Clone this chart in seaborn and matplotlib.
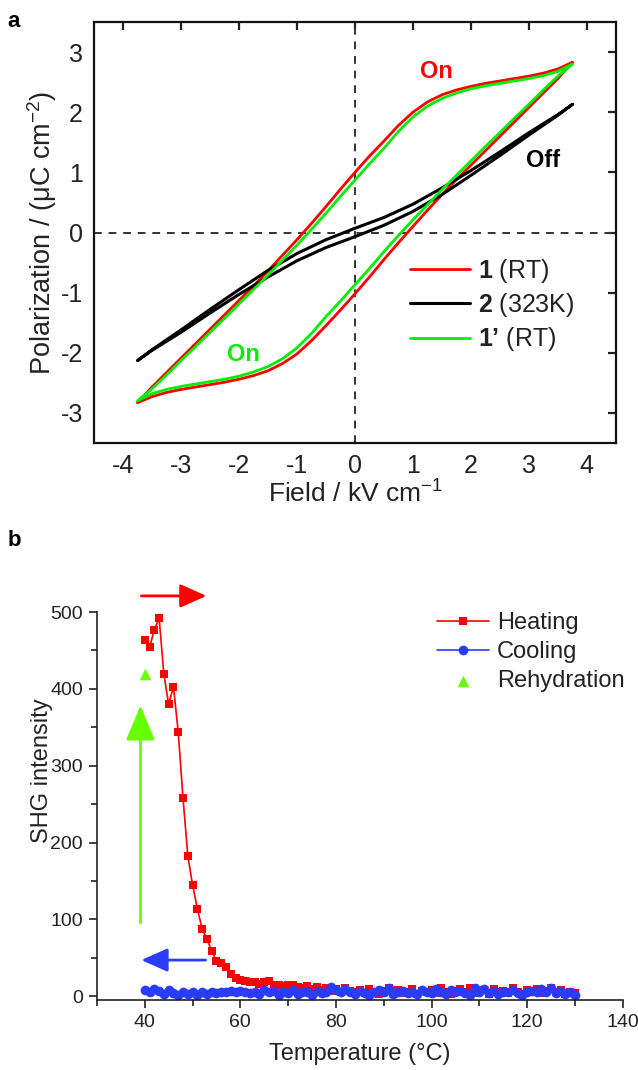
import numpy as np
import pandas as pd
import seaborn as sns
import matplotlib.pyplot as plt
from matplotlib.ticker import MultipleLocator

# ---- panel a: P-E hysteresis loops ----
field_down = [3.75, 3.5, 3.25, 3.0, 2.75, 2.5, 2.25, 2.0, 1.75, 1.5, 1.25, 1.0,
              0.75, 0.5, 0.25, 0.0, -0.25, -0.5, -0.75, -1.0, -1.25, -1.5,
              -1.75, -2.0, -2.25, -2.5, -2.75, -3.0, -3.25, -3.5, -3.75]
field_up = [-3.75, -3.5, -3.25, -3.0, -2.75, -2.5, -2.25, -2.0, -1.75, -1.5,
            -1.25, -1.0, -0.75, -0.5, -0.25, 0.0, 0.25, 0.5, 0.75, 1.0, 1.25,
            1.5, 1.75, 2.0, 2.25, 2.5, 2.75, 3.0, 3.25, 3.5, 3.75]

rt_down = [2.83, 2.72, 2.65, 2.60, 2.56, 2.52, 2.48, 2.43, 2.37, 2.29, 2.17,
           2.00, 1.78, 1.52, 1.27, 1.00, 0.72, 0.43, 0.15, -0.12, -0.38,
           -0.64, -0.89, -1.13, -1.37, -1.61, -1.85, -2.09, -2.33, -2.57, -2.83]
rt_up = [-2.83, -2.73, -2.66, -2.61, -2.57, -2.53, -2.49, -2.44, -2.38, -2.30,
         -2.18, -2.02, -1.80, -1.55, -1.29, -1.02, -0.74, -0.45, -0.17, 0.10,
         0.37, 0.63, 0.88, 1.12, 1.36, 1.60, 1.84, 2.08, 2.32, 2.56, 2.83]

rt2_down = [2.80, 2.68, 2.61, 2.56, 2.52, 2.48, 2.44, 2.39, 2.32, 2.23, 2.10,
            1.92, 1.68, 1.40, 1.14, 0.87, 0.60, 0.32, 0.05, -0.21, -0.46,
            -0.71, -0.95, -1.19, -1.43, -1.66, -1.90, -2.13, -2.37, -2.60, -2.80]
rt2_up = [-2.80, -2.68, -2.61, -2.56, -2.52, -2.48, -2.44, -2.39, -2.32, -2.23,
          -2.10, -1.92, -1.68, -1.40, -1.14, -0.87, -0.60, -0.32, -0.05, 0.21,
          0.46, 0.71, 0.95, 1.19, 1.43, 1.66, 1.90, 2.13, 2.37, 2.60, 2.80]

hot_field_down = [3.75, 3.5, 3.0, 2.5, 2.0, 1.5, 1.0, 0.5, 0.0, -0.5, -1.0,
                  -1.5, -2.0, -2.5, -3.0, -3.5, -3.75]
hot_field_up = [-3.75, -3.5, -3.0, -2.5, -2.0, -1.5, -1.0, -0.5, 0.0, 0.5, 1.0,
                1.5, 2.0, 2.5, 3.0, 3.5, 3.75]
hot_down = [2.13, 1.96, 1.66, 1.34, 1.03, 0.74, 0.47, 0.25, 0.07, -0.12, -0.35,
            -0.63, -0.95, -1.28, -1.62, -1.95, -2.13]
hot_up = [-2.13, -1.96, -1.66, -1.34, -1.03, -0.74, -0.47, -0.25, -0.07, 0.12,
          0.35, 0.63, 0.95, 1.28, 1.62, 1.95, 2.13]

# ---- panel b: SHG vs temperature ----
heat_temp = list(range(40, 131))
heat_shg = [463, 454, 477, 492, 419, 380, 403, 344, 258, 183,
            145, 114, 88, 74, 59, 46, 43, 38, 29, 24,
            21, 20, 18, 19, 16, 18, 20, 15, 14, 13,
            14, 15, 12, 11, 13, 9, 12, 8, 10, 7,
            9, 6, 10, 7, 5, 8, 4, 9, 6, 3,
            7, 10, 5, 8, 4, 6, 9, 3, 7, 5,
            8, 4, 10, 6, 3, 7, 9, 5, 11, 4,
            6, 8, 3, 9, 5, 7, 4, 10, 6, 3,
            8, 5, 9, 4, 7, 10, 5, 8, 3, 6, 4]
cool_temp = list(range(40, 131))
cool_shg = [8, 6, 9, 7, 3, 8, 4, 2, 6, 3,
            5, 2, 6, 3, 5, 4, 6, 5, 7, 6,
            7, 5, 4, 6, 3, 8, 5, 7, 2, 6,
            4, 8, 3, 6, 5, 2, 7, 4, 6, 12,
            8, 6, 9, 5, 3, 7, 4, 2, 6, 8,
            5, 11, 3, 5, 7, 4, 6, 3, 8, 5,
            4, 9, 6, 3, 8, 5, 7, 4, 2, 10,
            6, 9, 4, 7, 3, 6, 5, 8, 4, 2,
            6, 7, 5, 9, 6, 10, 4, 7, 3, 6, 2]
rehyd_temp = [40]
rehyd_shg = [420]

RED = '#ff0000'
GREEN = '#00ee00'
LIME = '#66ff00'
BLUE = '#2a3cff'

sns.set_style('white')
plt.rcParams['font.family'] = ['Liberation Sans', 'DejaVu Sans']
plt.rcParams['mathtext.fontset'] = 'custom'
plt.rcParams['mathtext.rm'] = 'Liberation Sans'
plt.rcParams['mathtext.bf'] = 'Liberation Sans:bold'
plt.rcParams['mathtext.it'] = 'Liberation Sans:italic'
plt.rcParams['axes.unicode_minus'] = False
plt.rcParams['text.color'] = '#222222'
plt.rcParams['axes.labelcolor'] = '#222222'
plt.rcParams['xtick.color'] = '#222222'
plt.rcParams['ytick.color'] = '#222222'

fig = plt.figure(figsize=(6.38, 10.7), dpi=100)
ax_a = fig.add_axes([0.1473, 0.586, 0.818, 0.3934])
ax_b = fig.add_axes([0.152, 0.0654, 0.824, 0.3626])


def draw_loop(ax, x_down, y_down, x_up, y_up, color, lw, label):
    loop = pd.DataFrame({'field': x_down + x_up, 'pol': y_down + y_up})
    sns.lineplot(data=loop, x='field', y='pol', sort=False, estimator=None,
                 color=color, lw=lw, label=label, ax=ax)


ax_a.axhline(0, color='#333333', lw=1.4, ls=(0, (4, 3.5)), zorder=1)
ax_a.axvline(0, color='#333333', lw=1.4, ls=(0, (4, 3.5)), zorder=1)
draw_loop(ax_a, field_down, rt_down, field_up, rt_up, RED, 2.0,
          r'$\mathbf{1}$ (RT)')
draw_loop(ax_a, hot_field_down, hot_down, hot_field_up, hot_up, 'black', 2.2,
          r'$\mathbf{2}$ (323K)')
draw_loop(ax_a, field_down, rt2_down, field_up, rt2_up, GREEN, 2.0,
          '$\\mathbf{1\u2019}$ (RT)')

ax_a.set_xlim(-4.5, 4.5)
ax_a.set_ylim(-3.5, 3.5)
ax_a.xaxis.set_major_locator(MultipleLocator(1))
ax_a.yaxis.set_major_locator(MultipleLocator(1))
ax_a.tick_params(direction='in', length=6, width=1.6, labelsize=18, pad=8,
                 top=True, right=True)
for sp in ax_a.spines.values():
    sp.set_linewidth(1.6)
    sp.set_color('#111111')
ax_a.set_xlabel(r'Field / kV cm$^{-1}$', fontsize=19)
ax_a.set_ylabel('Polarization / (\u03bcC cm$^{-2}$)', fontsize=19.5)
ax_a.xaxis.set_label_coords(0.5, -0.09)
ax_a.yaxis.set_label_coords(-0.067, 0.5)
ax_a.text(1.41, 2.67, 'On', color=RED, fontsize=17, weight='bold',
          ha='center', va='center')
ax_a.text(3.24, 1.2, 'Off', color='black', fontsize=17, weight='bold',
          ha='center', va='center')
ax_a.text(-1.93, -2.03, 'On', color=GREEN, fontsize=17, weight='bold',
          ha='center', va='center')
ax_a.legend(loc='upper left', bbox_to_anchor=(0.643, 0.760),
            bbox_transform=fig.transFigure, frameon=False, fontsize=18,
            borderpad=0, borderaxespad=0, handlelength=2.4,
            handletextpad=0.3, labelspacing=0.25)

# panel b
sns.lineplot(x=heat_temp, y=heat_shg, color=RED, marker='s', markersize=6,
             markeredgewidth=0, lw=1.2, label='Heating', ax=ax_b,
             estimator=None)
sns.lineplot(x=cool_temp, y=cool_shg, color=BLUE, marker='o', markersize=7,
             markeredgewidth=0, lw=1.2, label='Cooling', ax=ax_b,
             estimator=None)
sns.scatterplot(x=rehyd_temp, y=rehyd_shg, color=LIME, marker='^', s=70,
                linewidth=0, label='Rehydration', ax=ax_b)

ax_b.annotate('', xy=(53.5, 521), xytext=(38.7, 521), annotation_clip=False,
              arrowprops=dict(arrowstyle='-|>,head_length=0.9,head_width=0.4',
                              color=RED, lw=2, mutation_scale=18))
ax_b.annotate('', xy=(38.7, 47), xytext=(53.3, 47), annotation_clip=False,
              arrowprops=dict(arrowstyle='-|>,head_length=0.9,head_width=0.4',
                              color=BLUE, lw=2, mutation_scale=18))
ax_b.annotate('', xy=(39.1, 382), xytext=(39.1, 92), annotation_clip=False,
              arrowprops=dict(arrowstyle='-|>,head_length=1.2,head_width=0.5',
                              color=LIME, lw=2, mutation_scale=18))

ax_b.set_xlim(30, 140)
ax_b.set_ylim(-5, 500)
ax_b.xaxis.set_major_locator(MultipleLocator(20))
ax_b.xaxis.set_minor_locator(MultipleLocator(10))
ax_b.yaxis.set_major_locator(MultipleLocator(100))
ax_b.yaxis.set_minor_locator(MultipleLocator(50))
ax_b.tick_params(which='major', direction='out', length=6, width=1.2,
                 labelsize=14, pad=4, bottom=True, left=True)
ax_b.tick_params(which='minor', direction='out', length=4, width=1.2,
                 bottom=True, left=True)
sns.despine(ax=ax_b)
for sp in ['left', 'bottom']:
    ax_b.spines[sp].set_linewidth(1.2)
    ax_b.spines[sp].set_color('#222222')
ax_b.set_xlabel('Temperature (°C)', fontsize=17)
ax_b.set_ylabel('SHG intensity', fontsize=17)
ax_b.xaxis.set_label_coords(0.5, -0.112)
ax_b.yaxis.set_label_coords(-0.084, 0.59)
ax_b.legend(loc='upper left', bbox_to_anchor=(0.685, 0.428),
            bbox_transform=fig.transFigure, frameon=False, fontsize=17,
            borderpad=0, borderaxespad=0, handlelength=2.2,
            handletextpad=0.35, labelspacing=0.3)

fig.text(0.012, 0.98, 'a', fontsize=16, weight='bold', va='center',
         color='black')
fig.text(0.012, 0.495, 'b', fontsize=16, weight='bold', va='center',
         color='black')

fig.savefig('out.png', dpi=100)
